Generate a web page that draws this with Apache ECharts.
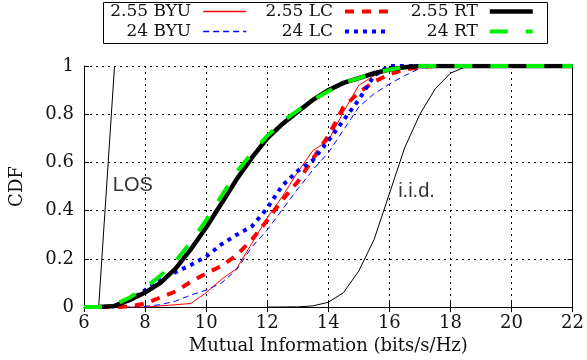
<!DOCTYPE html>
<html><head><meta charset="utf-8">
<script src="https://cdn.jsdelivr.net/npm/echarts@6/dist/echarts.min.js"></script>
<style>html,body{margin:0;padding:0;background:#fff}#c{width:587px;height:360px}</style>
</head><body><div id="c"></div>
<script>
// ---- data ----
const seriesNames = ['2.55 BYU', '24 BYU', '2.55 LC', '24 LC', '2.55 RT', '24 RT'];
const byu255 = [[6,0],[8,0],[8.5,0.005],[9,0.01],[9.5,0.015],[10,0.06],[10.5,0.115],[11,0.16],[11.5,0.265],[12,0.37],[12.5,0.46],[13,0.56],[13.5,0.65],[14,0.69],[14.5,0.81],[15,0.92],[15.5,0.96],[16,0.985],[16.5,0.995],[17,1],[22,1]];
const byu24 = [[6,0],[7.5,0],[8,0.003],[8.5,0.01],[9,0.025],[9.5,0.05],[10,0.07],[10.5,0.1],[11,0.155],[11.5,0.25],[12,0.32],[12.5,0.405],[13,0.49],[13.5,0.57],[14,0.64],[14.5,0.735],[15,0.83],[15.5,0.885],[16,0.925],[16.5,0.96],[17,0.99],[17.5,1],[22,1]];
const lc255 = [[6,0],[7,0],[7.5,0.003],[8,0.015],[8.5,0.04],[9,0.065],[9.5,0.105],[10,0.14],[10.5,0.17],[11,0.215],[11.5,0.28],[12,0.36],[12.5,0.445],[13,0.52],[13.5,0.615],[14,0.71],[14.5,0.83],[15,0.89],[15.5,0.935],[16,0.965],[16.5,0.985],[17,0.995],[17.5,1],[22,1]];
const lc24 = [[6,0],[6.5,0],[7,0.003],[7.5,0.03],[8,0.07],[8.5,0.115],[9,0.145],[9.5,0.175],[10,0.21],[10.5,0.26],[11,0.3],[11.5,0.335],[12,0.41],[12.5,0.505],[13,0.565],[13.5,0.61],[14,0.69],[14.5,0.775],[15,0.86],[15.5,0.96],[16,1],[22,1]];
const rt255 = [[6.5,0],[7,0.005],[7.5,0.03],[8,0.06],[8.5,0.1],[9,0.16],[9.5,0.24],[10,0.33],[10.5,0.43],[11,0.53],[11.5,0.62],[12,0.7],[12.5,0.76],[13,0.81],[13.5,0.86],[14,0.9],[14.5,0.93],[15,0.95],[15.5,0.97],[16,0.985],[16.5,0.995],[17,1],[22,1]];
const rt24 = [[6,0],[6.5,0],[7,0.01],[7.5,0.04],[8,0.08],[8.5,0.13],[9,0.19],[9.5,0.27],[10,0.36],[10.5,0.46],[11,0.56],[11.5,0.64],[12,0.71],[12.5,0.77],[13,0.815],[13.5,0.86],[14,0.895],[14.5,0.93],[15,0.95],[15.5,0.97],[16,0.985],[16.5,0.995],[17,1],[22,1]];
const los = [[6.48,0],[7.0,1]];
const iid = [[12,0],[13,0.001],[13.5,0.005],[14,0.02],[14.5,0.06],[15,0.15],[15.5,0.28],[16,0.47],[16.5,0.66],[17,0.8],[17.5,0.905],[18,0.97],[18.5,0.997],[19,1],[22,1]];
const annotTexts = ['LOS', 'i.i.d.'];
const annotPos = [[7.6,0.505],[16.89,0.48]];
const xMin = 6, xMax = 22, xStep = 2;
const yMin = 0, yMax = 1, yStep = 0.2;
const xTitle = 'Mutual Information (bits/s/Hz)';
const yTitle = 'CDF';

// ---- styles ----
const seriesStyles = [
  {color: '#ff0000', width: 1, type: 'solid'},
  {color: '#0000ff', width: 1, type: [6, 4]},
  {color: '#ff0000', width: 4, type: [9, 8]},
  {color: '#0000ff', width: 4, type: [4, 5]},
  {color: '#000000', width: 4.5, type: 'solid'},
  {color: '#00ee00', width: 4, type: [18, 18]}
];

// ---- chart ----
const SERIF = 'DejaVu Serif';
const chart = echarts.init(document.getElementById('c'), null, {renderer: 'canvas'});
function lineSeries(name, data, st) {
  return {name, type: 'line', data, showSymbol: false, symbol: 'none', silent: true,
    lineStyle: {color: st.color, width: st.width, type: st.type, cap: 'butt', join: 'miter'},
    itemStyle: {color: st.color}};
}
const gridCol = '#000';
const baseAxis = {
  axisLine: {show: true, lineStyle: {color: '#000', width: 1}},
  axisTick: {show: true, inside: true, length: 5, lineStyle: {color: '#000'}},
};
const option = {
  animation: false,
  backgroundColor: '#fff',
  grid: {left: 84, right: 13, top: 66, bottom: 51, containLabel: false},
  xAxis: [
    Object.assign({type: 'value', min: xMin, max: xMax, interval: xStep, position: 'bottom',
      name: xTitle, nameLocation: 'middle', nameGap: 29,
      nameTextStyle: {fontFamily: SERIF, fontSize: 18, color: '#111'},
      axisLabel: {fontFamily: SERIF, fontSize: 18, color: '#111', margin: 7},
      splitLine: {show: true, lineStyle: {color: gridCol, width: 1, type: [2, 4]}}}, baseAxis),
    Object.assign({type: 'value', min: xMin, max: xMax, interval: xStep, position: 'top',
      axisLabel: {show: false}, splitLine: {show: false}}, baseAxis)
  ],
  yAxis: [
    Object.assign({type: 'value', min: yMin, max: yMax, interval: yStep, position: 'left',
      name: yTitle, nameLocation: 'middle', nameGap: 58,
      nameTextStyle: {fontFamily: SERIF, fontSize: 18, color: '#111'},
      axisLabel: {fontFamily: SERIF, fontSize: 18, color: '#111', margin: 10},
      splitLine: {show: true, lineStyle: {color: gridCol, width: 1, type: [2, 4]}}}, baseAxis),
    Object.assign({type: 'value', min: yMin, max: yMax, interval: yStep, position: 'right',
      axisLabel: {show: false}, splitLine: {show: false}}, baseAxis)
  ],
  legend: [0, 1, 2].map((col, i) => ({
    data: [i * 2, i * 2 + 1].map(k => ({name: seriesNames[k],
      lineStyle: {color: seriesStyles[k].color, width: Math.max(seriesStyles[k].width, 1.6), type: seriesStyles[k].type}})),
    orient: 'vertical', align: 'right', padding: 0,
    right: [340, 197, 52][i], top: 3,
    itemWidth: 43, itemHeight: 14, itemGap: 3,
    selectedMode: false,
    itemStyle: {opacity: 0, borderWidth: 0},
    textStyle: {fontFamily: SERIF, fontSize: 17, color: '#111', padding: [0, 7, 0, 0]}
  })),
  graphic: [{type: 'rect', shape: {x: 103.5, y: 2.5, width: 444, height: 41},
    style: {fill: null, stroke: '#000', lineWidth: 1}, silent: true, z: 100}],
  series: [
    lineSeries('LOS', los, {color: '#000', width: 1, type: 'solid'}),
    lineSeries('i.i.d.', iid, {color: '#000', width: 1, type: 'solid'}),
    lineSeries(seriesNames[0], byu255, seriesStyles[0]),
    lineSeries(seriesNames[1], byu24, seriesStyles[1]),
    lineSeries(seriesNames[2], lc255, seriesStyles[2]),
    lineSeries(seriesNames[3], lc24, seriesStyles[3]),
    lineSeries(seriesNames[4], rt255, seriesStyles[4]),
    lineSeries(seriesNames[5], rt24, seriesStyles[5]),
    {type: 'scatter', silent: true, symbolSize: 0,
      data: annotPos.map((p, i) => ({value: p, name: annotTexts[i]})),
      label: {show: true, position: 'inside', formatter: p => p.name,
        fontFamily: 'Liberation Sans', fontSize: 20, color: '#000'}}
  ]
};
chart.setOption(option);
</script>
</body></html>
